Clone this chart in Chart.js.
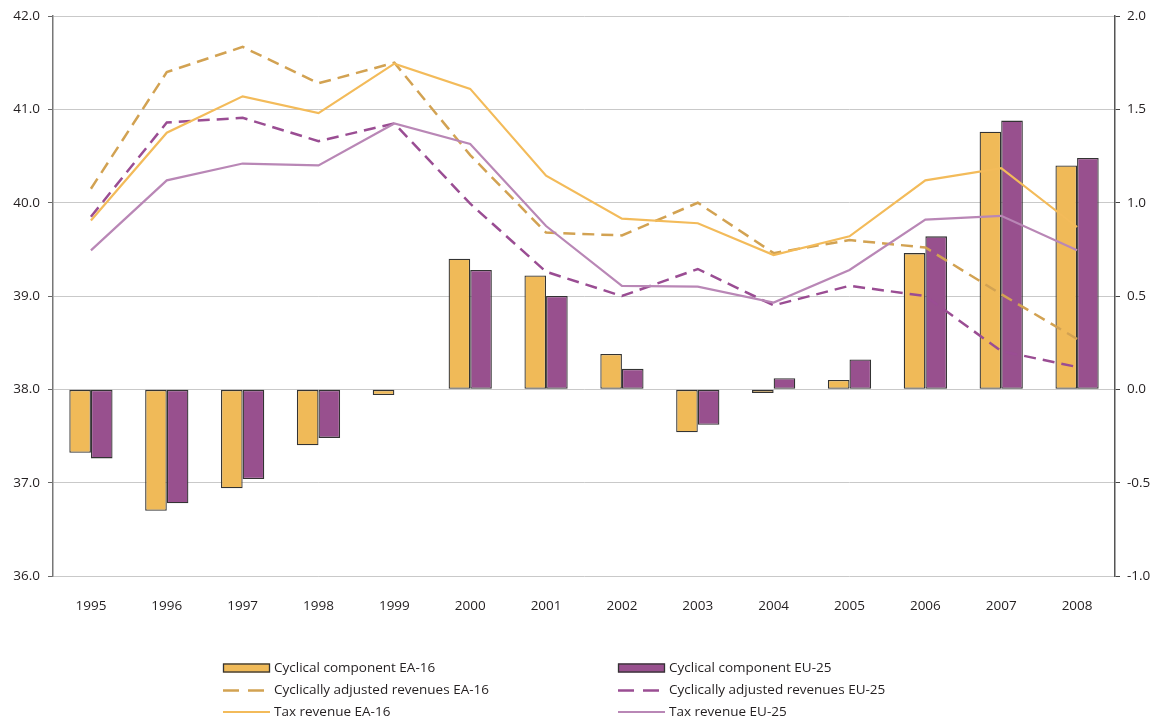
<!DOCTYPE html>
<html>
<head>
<meta charset="utf-8">
<script src="https://cdn.jsdelivr.net/npm/chart.js@4"></script>
<style>
  html, body { margin: 0; padding: 0; background: #ffffff; }
  #wrap { width: 1155px; height: 719px; position: relative; }
</style>
</head>
<body>
<div id="wrap"><canvas id="c" width="1155" height="719"></canvas></div>
<script>
const years = ['1995','1996','1997','1998','1999','2000','2001','2002','2003','2004','2005','2006','2007','2008'];

const cyclicalEA16 = [-0.34, -0.65, -0.53, -0.30, -0.03, 0.70, 0.61, 0.19, -0.23, -0.02, 0.05, 0.73, 1.38, 1.20];
const cyclicalEU25 = [-0.37, -0.61, -0.48, -0.26, 0.00, 0.64, 0.50, 0.11, -0.19, 0.06, 0.16, 0.82, 1.44, 1.24];

const adjustedEA16 = [40.15, 41.40, 41.67, 41.28, 41.50, 40.51, 39.68, 39.65, 40.00, 39.46, 39.60, 39.52, 39.02, 38.54];
const adjustedEU25 = [39.85, 40.86, 40.91, 40.66, 40.85, 39.99, 39.26, 39.00, 39.29, 38.90, 39.11, 39.00, 38.41, 38.24];

const taxEA16 = [39.81, 40.75, 41.14, 40.96, 41.49, 41.22, 40.29, 39.83, 39.78, 39.44, 39.64, 40.24, 40.37, 39.74];
const taxEU25 = [39.49, 40.24, 40.42, 40.40, 40.85, 40.63, 39.75, 39.11, 39.10, 38.93, 39.28, 39.82, 39.86, 39.49];

const leftTicks = [36, 37, 38, 39, 40, 41, 42];
const rightTicks = [-1.0, -0.5, 0.0, 0.5, 1.0, 1.5, 2.0];

const FONT = "'Open Sans', sans-serif";
const FSIZE = 13.5;
const TEXT = '#231f20';

const legendPlugin = {
  id: 'customLegend',
  afterDraw(chart) {
    const ctx = chart.ctx;
    const ds = chart.data.datasets;
    const cols = [{box: 223, text: 274}, {box: 618, text: 669}];
    const rows = [668, 690.5, 712];
    const order = [[0, 1], [2, 3], [4, 5]];
    ctx.save();
    ctx.font = FSIZE + "px " + FONT;
    ctx.textBaseline = 'middle';
    order.forEach((pair, r) => {
      pair.forEach((idx, c) => {
        const d = ds[idx];
        const x = cols[c].box, y = rows[r];
        if (d.type === 'bar') {
          ctx.fillStyle = d.backgroundColor;
          ctx.fillRect(x, y - 4.5, 47, 9);
          ctx.strokeStyle = '#333';
          ctx.lineWidth = 1.3;
          ctx.strokeRect(x + 0.5, y - 4.5 + 0.5, 46, 8);
        } else {
          ctx.strokeStyle = d.borderColor;
          ctx.lineWidth = d.borderWidth;
          ctx.setLineDash(d.borderDash && d.borderDash.length ? [16, 9] : []);
          ctx.beginPath();
          ctx.moveTo(x, y);
          ctx.lineTo(x + 47, y);
          ctx.stroke();
          ctx.setLineDash([]);
        }
        ctx.fillStyle = TEXT;
        ctx.fillText(d.label, cols[c].text, y);
      });
    });
    ctx.restore();
  }
};

const barBorder = (ctx) => (ctx.raw === 0 ? 0 : 1.3);

new Chart(document.getElementById('c'), {
  data: {
    labels: years,
    datasets: [
      { type: 'bar', label: 'Cyclical component EA-16', data: cyclicalEA16, yAxisID: 'y1',
        backgroundColor: '#F0BA58', borderColor: '#333333', borderWidth: barBorder, borderSkipped: false, order: 2 },
      { type: 'bar', label: 'Cyclical component EU-25', data: cyclicalEU25, yAxisID: 'y1',
        backgroundColor: '#98508E', borderColor: '#333333', borderWidth: barBorder, borderSkipped: false, order: 2 },
      { type: 'line', label: 'Cyclically adjusted revenues EA-16', data: adjustedEA16, yAxisID: 'y',
        borderColor: '#D2A252', borderWidth: 2.5, borderDash: [12, 7], pointRadius: 0, tension: 0, fill: false, order: 1 },
      { type: 'line', label: 'Cyclically adjusted revenues EU-25', data: adjustedEU25, yAxisID: 'y',
        borderColor: '#9A4D93', borderWidth: 2.5, borderDash: [12, 7], pointRadius: 0, tension: 0, fill: false, order: 1 },
      { type: 'line', label: 'Tax revenue EA-16', data: taxEA16, yAxisID: 'y',
        borderColor: '#F3BB5A', borderWidth: 2.2, pointRadius: 0, tension: 0, fill: false, order: 0 },
      { type: 'line', label: 'Tax revenue EU-25', data: taxEU25, yAxisID: 'y',
        borderColor: '#B987B6', borderWidth: 2.2, pointRadius: 0, tension: 0, fill: false, order: 0 }
    ]
  },
  options: {
    responsive: false,
    animation: false,
    maintainAspectRatio: false,
    layout: { padding: { top: 16, left: 0, right: 0, bottom: 100 } },
    datasets: { bar: { categoryPercentage: 0.57, barPercentage: 1.0 } },
    plugins: { legend: { display: false }, tooltip: { enabled: false } },
    scales: {
      x: {
        grid: { display: false },
        border: { display: false },
        ticks: { color: TEXT, font: { family: FONT, size: FSIZE }, padding: 14, maxRotation: 0 },
        afterFit(scale) { scale.height = 43; }
      },
      y: {
        position: 'left',
        min: 36, max: 42,
        afterBuildTicks(scale) { scale.ticks = leftTicks.map(v => ({ value: v })); },
        ticks: { color: TEXT, font: { family: FONT, size: FSIZE }, padding: 8,
                 callback: (v) => Number(v).toFixed(1) },
        grid: { color: '#c9c9c9', lineWidth: 1, tickLength: 5, tickColor: '#666' },
        border: { display: true, color: '#777', width: 1.5 },
        afterFit(scale) { scale.width = 53; }
      },
      y1: {
        position: 'right',
        min: -1, max: 2,
        afterBuildTicks(scale) { scale.ticks = rightTicks.map(v => ({ value: v })); },
        ticks: { color: TEXT, font: { family: FONT, size: FSIZE }, padding: 7,
                 callback: (v) => Number(v).toFixed(1) },
        grid: { drawOnChartArea: false, tickLength: 5, tickColor: '#444' },
        border: { display: true, color: '#555', width: 1.5 },
        afterFit(scale) { scale.width = 40; }
      }
    }
  },
  plugins: [legendPlugin]
});
</script>
</body>
</html>
